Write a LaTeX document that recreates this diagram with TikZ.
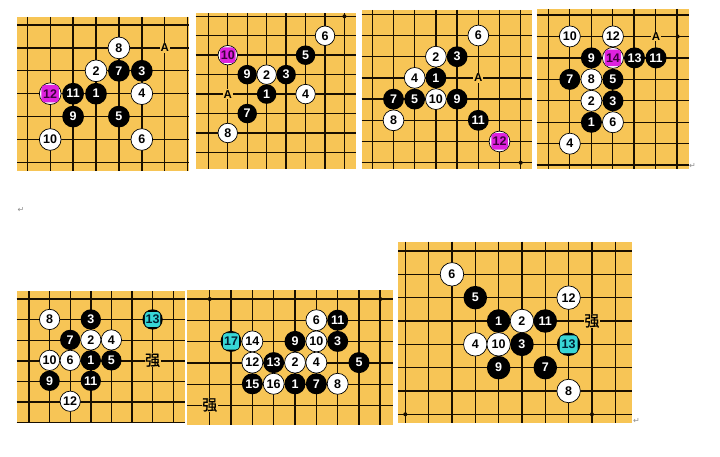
\documentclass[tikz,border=0pt]{standalone}
\usepackage{fontspec}
\setmainfont{Liberation Sans}
\newfontfamily\cjkfont{Noto Sans CJK SC}[FakeBold=1.2]
\newfontfamily\symfont{DejaVu Sans}
\definecolor{boardc}{RGB}{247,197,86}
\definecolor{gridc}{RGB}{25,15,0}
\definecolor{hmag}{RGB}{222,34,222}
\definecolor{hcyan}{RGB}{56,214,214}
\definecolor{hmagtext}{RGB}{60,0,60}
\definecolor{hcyantext}{RGB}{0,30,50}
\def\stsize{21pt}
\def\hlsize{17pt}
\tikzset{
  gridline/.style={draw=gridc, line width=1.4pt},
  stonetext/.style={font=\bfseries\fontsize{12.5}{12.5}\selectfont},
  bstone/.style={circle, fill=black, text=white, inner sep=0pt, minimum size=\stsize, stonetext},
  wstone/.style={circle, fill=white, draw=black, line width=0.7pt, text=black, inner sep=0pt, minimum size=\stsize, stonetext},
  magsq/.style={rectangle, rounded corners=3.5pt, fill=hmag, text=hmagtext, inner sep=0pt, minimum size=\hlsize, stonetext},
  cyansq/.style={rectangle, rounded corners=3.5pt, fill=hcyan, draw=black, line width=0.6pt, text=hcyantext, inner sep=0pt, minimum size=\hlsize, stonetext},
  alabel/.style={fill=boardc, inner sep=0.8pt, text=black, font=\bfseries\fontsize{11.5}{11.5}\selectfont},
  qlabel/.style={fill=boardc, inner sep=0.5pt, text=black, font=\cjkfont\fontsize{15}{15}\selectfont},
  retmark/.style={inner sep=0pt, text=black!45, font=\symfont\fontsize{8}{8}\selectfont},
}
% board: x0,y0,x1,y1,gx0,gy0,sp,lastcol,lastrow
\newcommand{\goboard}[9]{%
  \fill[boardc] (#1,#2) rectangle (#3,#4);
  \foreach \i in {0,...,#8} \draw[gridline] ({#5+\i*#7},#2) -- ({#5+\i*#7},#4);
  \foreach \j in {0,...,#9} \draw[gridline] (#1,{#6+\j*#7}) -- (#3,{#6+\j*#7});
}
\newcommand{\gob}[4]{\node[bstone] (#1) at (#2,#3) {#4};}
\newcommand{\gow}[4]{\node[wstone] (#1) at (#2,#3) {#4};}
\newcommand{\gom}[4]{\node[wstone] (#1) at (#2,#3) {}; \node[magsq] (#1h) at (#2,#3) {#4};}
\newcommand{\goc}[4]{\node[bstone] (#1) at (#2,#3) {}; \node[cyansq] (#1h) at (#2,#3) {#4};}
\newcommand{\goa}[3]{\node[alabel] (#1) at (#2,#3) {A};}
\newcommand{\goq}[3]{\node[qlabel] (#1) at (#2,#3) {强};}
\newcommand{\gostar}[2]{\fill[gridc] (#1,#2) circle (2pt);}
\begin{document}
\begin{tikzpicture}[x=1pt, y=-1pt]
\useasboundingbox (0,0) rectangle (720,457);
\fill[white] (0,0) rectangle (720,457);

% ---------- Board 1 ----------
\goboard{17}{17}{188.5}{171}{27.3}{25}{22.9}{7}{6}
\def\stsize{21.7pt}\def\hlsize{17.5pt}
\begin{scope}[shift={(27.3,25)}, x=22.9pt, y=-22.9pt]
  \gow{a8}{4}{1}{8}
  \goa{aA}{6}{1}
  \gow{a2}{3}{2}{2}
  \gob{a7}{4}{2}{7}
  \gob{a3}{5}{2}{3}
  \gom{a12}{1}{3}{12}
  \gob{a11}{2}{3}{11}
  \gob{a1}{3}{3}{1}
  \gow{a4}{5}{3}{4}
  \gob{a9}{2}{4}{9}
  \gob{a5}{4}{4}{5}
  \gow{a10}{1}{5}{10}
  \gow{a6}{5}{5}{6}
\end{scope}

% ---------- Board 2 ----------
\goboard{195.7}{13.5}{356}{169}{208.3}{16.3}{19.45}{7}{7}
\def\stsize{19.5pt}\def\hlsize{15.5pt}
\begin{scope}[shift={(208.3,16.3)}, x=19.45pt, y=-19.45pt]
  \gostar{7}{0}
  \gow{b6}{6}{1}{6}
  \gom{b10}{1}{2}{10}
  \gob{b5}{5}{2}{5}
  \gob{b9}{2}{3}{9}
  \gow{b2}{3}{3}{2}
  \gob{b3}{4}{3}{3}
  \goa{bA}{1}{4}
  \gob{b1}{3}{4}{1}
  \gow{b4}{5}{4}{4}
  \gob{b7}{2}{5}{7}
  \gow{b8}{1}{6}{8}
\end{scope}

% ---------- Board 3 ----------
\goboard{361.7}{10}{531.7}{169.5}{372.3}{14.3}{21.2}{7}{7}
\def\stsize{20.8pt}\def\hlsize{16.5pt}
\begin{scope}[shift={(372.3,14.3)}, x=21.2pt, y=-21.2pt]
  \gostar{7}{7}
  \gow{c6}{5}{1}{6}
  \gow{c2}{3}{2}{2}
  \gob{c3}{4}{2}{3}
  \gow{c4}{2}{3}{4}
  \gob{c1}{3}{3}{1}
  \goa{cA}{5}{3}
  \gob{c7}{1}{4}{7}
  \gob{c5}{2}{4}{5}
  \gow{c10}{3}{4}{10}
  \gob{c9}{4}{4}{9}
  \gow{c8}{1}{5}{8}
  \gob{c11}{5}{5}{11}
  \gom{c12}{6}{6}{12}
\end{scope}

% ---------- Board 4 ----------
\goboard{536.7}{9}{689.3}{169}{548.3}{15}{21.45}{6}{7}
\def\stsize{21pt}\def\hlsize{16.5pt}
\begin{scope}[shift={(548.3,15)}, x=21.55pt, y=-21.45pt]
  \gow{d10}{1}{1}{10}
  \gow{d12}{3}{1}{12}
  \goa{dA}{5}{1}
  \gostar{6}{1}
  \gob{d9}{2}{2}{9}
  \gom{d14}{3}{2}{14}
  \gob{d13}{4}{2}{13}
  \gob{d11}{5}{2}{11}
  \gob{d7}{1}{3}{7}
  \gow{d8}{2}{3}{8}
  \gob{d5}{3}{3}{5}
  \gow{d2}{2}{4}{2}
  \gob{d3}{3}{4}{3}
  \gob{d1}{2}{5}{1}
  \gow{d6}{3}{5}{6}
  \gow{d4}{1}{6}{4}
\end{scope}
\node[retmark] (ret1) at (692.5,166) {↵};
\node[retmark] (ret2) at (21,210) {↵};

% ---------- Board 5 ----------
\goboard{16.7}{291}{185}{423.3}{29}{299}{20.6}{7}{6}
\def\stsize{20.3pt}\def\hlsize{16pt}
\begin{scope}[shift={(29,299)}, x=20.6pt, y=-20.45pt]
  \gow{e8}{1}{1}{8}
  \gob{e3}{3}{1}{3}
  \goc{e13}{6}{1}{13}
  \gob{e7}{2}{2}{7}
  \gow{e2}{3}{2}{2}
  \gow{e4}{4}{2}{4}
  \gow{e10}{1}{3}{10}
  \gow{e6}{2}{3}{6}
  \gob{e1}{3}{3}{1}
  \gob{e5}{4}{3}{5}
  \goq{eQ}{6}{3}
  \gob{e9}{1}{4}{9}
  \gob{e11}{3}{4}{11}
  \gow{e12}{2}{5}{12}
\end{scope}

% ---------- Board 6 ----------
\goboard{187}{290}{393}{425}{209.7}{299}{21.3}{8}{5}
\def\stsize{21pt}\def\hlsize{17pt}
\begin{scope}[shift={(209.7,299)}, x=21.33pt, y=-21.2pt]
  \gostar{0}{0}
  \gostar{8}{0}
  \gow{f6}{5}{1}{6}
  \gob{f11}{6}{1}{11}
  \goc{f17}{1}{2}{17}
  \gow{f14}{2}{2}{14}
  \gob{f9}{4}{2}{9}
  \gow{f10}{5}{2}{10}
  \gob{f3}{6}{2}{3}
  \gow{f12}{2}{3}{12}
  \gob{f13}{3}{3}{13}
  \gow{f2}{4}{3}{2}
  \gow{f4}{5}{3}{4}
  \gob{f5}{7}{3}{5}
  \gob{f15}{2}{4}{15}
  \gow{f16}{3}{4}{16}
  \gob{f1}{4}{4}{1}
  \gob{f7}{5}{4}{7}
  \gow{f8}{6}{4}{8}
  \goq{fQ}{0}{5}
\end{scope}

% ---------- Board 7 ----------
\goboard{398}{241.7}{632.3}{423.3}{405.3}{251}{23.33}{9}{7}
\def\stsize{23.5pt}\def\hlsize{18.5pt}
\begin{scope}[shift={(405.3,251)}, x=23.33pt, y=-23.33pt]
  \gostar{0}{7}
  \gostar{8}{7}
  \gow{g6}{2}{1}{6}
  \gob{g5}{3}{2}{5}
  \gow{g12}{7}{2}{12}
  \gob{g1}{4}{3}{1}
  \gow{g2}{5}{3}{2}
  \gob{g11}{6}{3}{11}
  \goq{gQ}{8}{3}
  \gow{g4}{3}{4}{4}
  \gow{g10}{4}{4}{10}
  \gob{g3}{5}{4}{3}
  \goc{g13}{7}{4}{13}
  \gob{g9}{4}{5}{9}
  \gob{g7}{6}{5}{7}
  \gow{g8}{7}{6}{8}
\end{scope}
\node[retmark] (ret3) at (636.5,421) {↵};
\end{tikzpicture}
\end{document}
